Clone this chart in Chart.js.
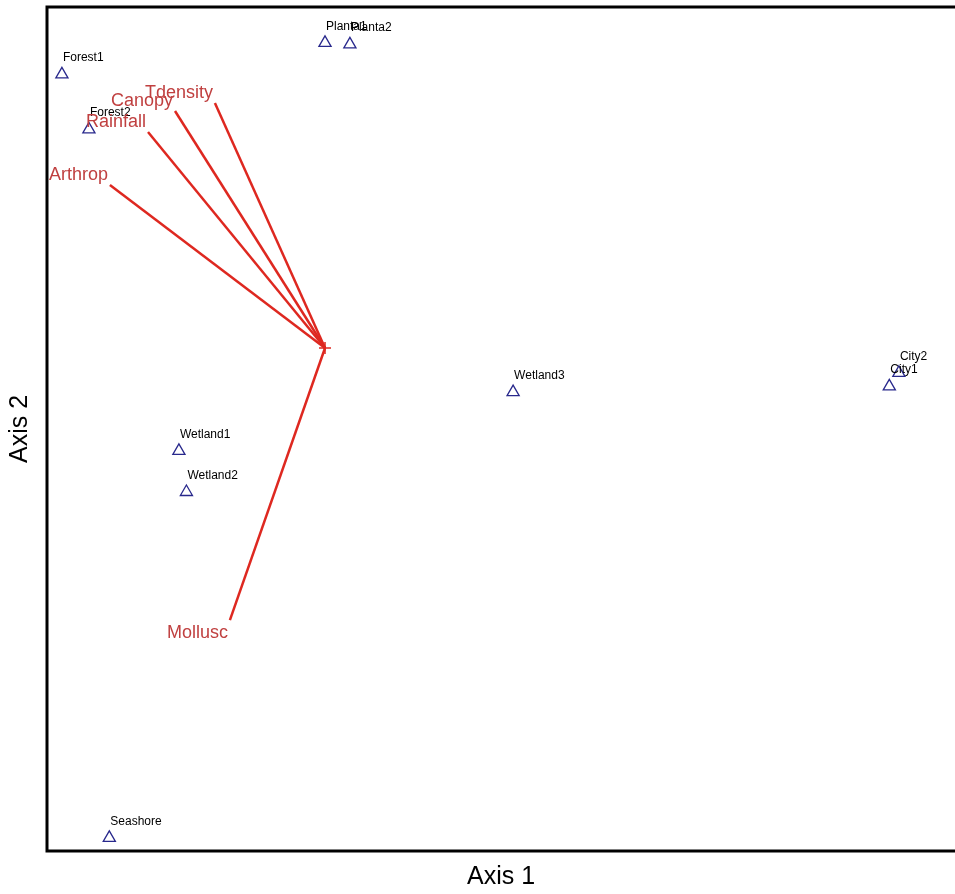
<!DOCTYPE html>
<html>
<head>
<meta charset="utf-8">
<script src="https://cdn.jsdelivr.net/npm/chart.js@4.4.0/dist/chart.umd.min.js"></script>
<style>
  body { margin: 0; background: #fff; }
  canvas { display: block; }
</style>
</head>
<body>
<canvas id="biplot" width="955" height="894"></canvas>
<script>
// sites (ordination scores)
const siteNames = ['Forest1', 'Forest2', 'Planta1', 'Planta2', 'City2', 'City1', 'Wetland3', 'Wetland1', 'Wetland2', 'Seashore']
const siteX = [-0.877, -0.787, 0.000, 0.083, 1.913, 1.881, 0.627, -0.487, -0.462, -0.719]
const siteY = [0.912, 0.729, 1.017, 1.012, -0.083, -0.128, -0.147, -0.343, -0.480, -1.633]

// environmental vectors
const varNames = ['Tdensity', 'Canopy', 'Rainfall', 'Arthrop', 'Mollusc']
const varX = [-0.367, -0.500, -0.590, -0.717, -0.317]
const varY = [0.817, 0.790, 0.720, 0.543, -0.907]

const ctx = document.getElementById('biplot').getContext('2d')

const vectorSets = varNames.map((name, i) => ({
    label: name,
    data: [{ x: 0, y: 0 }, { x: varX[i], y: varY[i] }],
    showLine: true,
    borderColor: 'rgb(222, 40, 32)',
    borderWidth: 2.5,
    pointRadius: 0
}))

const labelPlugin = {
    id: 'labels',
    afterDatasetsDraw(chart) {
        const c = chart.ctx
        const xs = chart.scales.x
        const ys = chart.scales.y
        c.save()
        // site labels
        c.font = '12px "Liberation Sans", Arial, sans-serif'
        c.fillStyle = '#000'
        c.textAlign = 'left'
        c.textBaseline = 'alphabetic'
        siteNames.forEach((name, i) => {
            const px = xs.getPixelForValue(siteX[i])
            const py = ys.getPixelForValue(siteY[i])
            c.fillText(name, px + 1, py - 13)
        })
        // vector labels
        c.font = '18px "Liberation Sans", Arial, sans-serif'
        c.fillStyle = 'rgb(192, 64, 64)'
        c.textAlign = 'right'
        varNames.forEach((name, i) => {
            const px = xs.getPixelForValue(varX[i])
            const py = ys.getPixelForValue(varY[i])
            if (varY[i] > 0) {
                c.textBaseline = 'alphabetic'
                c.fillText(name, px - 2, py - 5)
            } else {
                c.textBaseline = 'top'
                c.fillText(name, px - 2, py + 4)
            }
        })
        c.restore()
    }
}

const framePlugin = {
    id: 'frame',
    afterDraw(chart) {
        const a = chart.chartArea
        const c = chart.ctx
        c.save()
        c.strokeStyle = '#000'
        c.lineWidth = 3
        c.beginPath()
        c.moveTo(a.right, a.top)
        c.lineTo(a.left, a.top)
        c.lineTo(a.left, a.bottom)
        c.lineTo(a.right, a.bottom)
        c.stroke()
        c.restore()
    }
}

let biplot = new Chart(ctx, {
    type: 'scatter',
    data: {
        datasets: [
            ...vectorSets,
            {
                label: 'origin',
                data: [{ x: 0, y: 0 }],
                pointStyle: 'cross',
                pointRadius: 6,
                borderColor: 'rgb(222, 40, 32)',
                borderWidth: 1.5
            },
            {
                label: 'sites',
                data: siteX.map((x, i) => ({ x: x, y: siteY[i] })),
                pointStyle: 'triangle',
                pointRadius: 7,
                backgroundColor: 'rgba(0,0,0,0)',
                borderColor: 'rgb(40, 40, 140)',
                borderWidth: 1.3
            }
        ]
    },
    options: {
        responsive: false,
        animation: false,
        layout: { autoPadding: false, padding: { top: 7, right: 0, left: 0, bottom: 0 } },
        plugins: {
            legend: { display: false },
            tooltip: { enabled: false }
        },
        scales: {
            x: {
                type: 'linear',
                min: -0.9267,
                max: 2.1,
                ticks: { display: false },
                grid: { display: false, drawTicks: false },
                border: { display: false },
                title: {
                    display: true,
                    text: 'Axis 1',
                    color: '#000',
                    font: { family: '"Liberation Sans", Arial, sans-serif', size: 25 },
                    padding: { top: 11, bottom: 2 }
                }
            },
            y: {
                type: 'linear',
                min: -1.6767,
                max: 1.1367,
                ticks: { display: false },
                grid: { display: false, drawTicks: false },
                border: { display: false },
                title: {
                    display: true,
                    text: 'Axis 2',
                    color: '#000',
                    font: { family: '"Liberation Sans", Arial, sans-serif', size: 25 },
                    padding: { top: 5, bottom: 12 }
                }
            }
        }
    },
    plugins: [labelPlugin, framePlugin]
})
</script>
</body>
</html>
